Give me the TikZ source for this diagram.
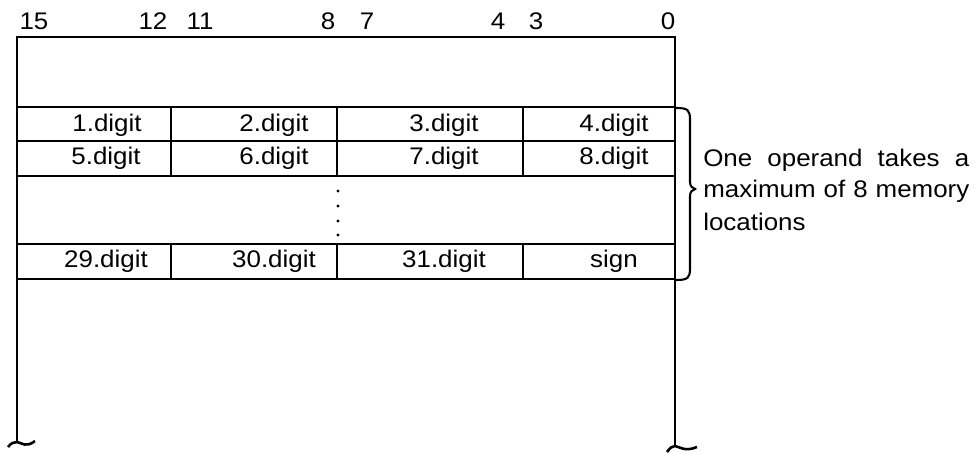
\documentclass[tikz,border=0pt]{standalone}
\usepackage{fontspec}
\setmainfont{Liberation Sans}[FakeStretch=1.08]
\begin{document}
\begin{tikzpicture}[x=1pt,y=-1pt,line width=2.6pt,
  lbl/.style={font=\fontsize{24}{28}\selectfont,inner sep=0pt,anchor=base},
  lblw/.style={lbl,anchor=base west},
  thin/.style={line width=2.1pt}]
\useasboundingbox (0,0) rectangle (976,454);
% outer frame
\draw (17,442) -- (17,37) -- (675,37) -- (675,447);
% row lines
\foreach \y in {107,141,176,244,279} \draw[thin] (17,\y) -- (675,\y);
% column dividers
\foreach \x in {171,337,523} {
  \draw[thin] (\x,107) -- (\x,176);
  \draw[thin] (\x,244) -- (\x,279);
}
% dots
\foreach \y in {191,206,221,235} \fill (338,\y) circle (1.6pt);
% broken ends
\draw (8,447) .. controls (11,443) and (14,442) .. (17,442) .. controls (22,443) and (26,448) .. (35,441);
\draw (667,452) .. controls (670,448) and (672,446) .. (675,446) .. controls (680,447) and (685,452) .. (697,447);
% brace
\draw[thin] (676,108) .. controls (688,108) and (690,110) .. (690,120) -- (690,182)
  .. controls (690,186) and (692,188) .. (695,189) .. controls (692,190) and (690,192) .. (690,196)
  -- (690,268) .. controls (690,278) and (688,280) .. (676,280);
% bit numbers
\node[lbl] (b15) at (34,30) {15};
\node[lbl] (b12) at (153,30) {12};
\node[lbl] (b11) at (200,30) {11};
\node[lbl] (b8) at (328,30) {8};
\node[lbl] (b7) at (367,30) {7};
\node[lbl] (b4) at (498,30) {4};
\node[lbl] (b3) at (536,30) {3};
\node[lbl] (b0) at (668,30) {0};
% cells
\node[lbl] (d1) at (107,132) {1.digit};
\node[lbl] (d2) at (274,132) {2.digit};
\node[lbl] (d3) at (444,132) {3.digit};
\node[lbl] (d4) at (614,132) {4.digit};
\node[lbl] (d5) at (106,165) {5.digit};
\node[lbl] (d6) at (274,165) {6.digit};
\node[lbl] (d7) at (444,165) {7.digit};
\node[lbl] (d8) at (614,165) {8.digit};
\node[lbl] (d29) at (106,267) {29.digit};
\node[lbl] (d30) at (274,267) {30.digit};
\node[lbl] (d31) at (444,267) {31.digit};
\node[lbl] (dsign) at (614,267) {sign};
% note
\node[lblw] (n1) at (702,167) {\makebox[266pt][s]{One operand takes a}};
\node[lblw] (n2) at (702,198) {\makebox[266pt][s]{maximum of 8 memory}};
\node[lblw] (n3) at (702,231) {locations};
\end{tikzpicture}
\end{document}
